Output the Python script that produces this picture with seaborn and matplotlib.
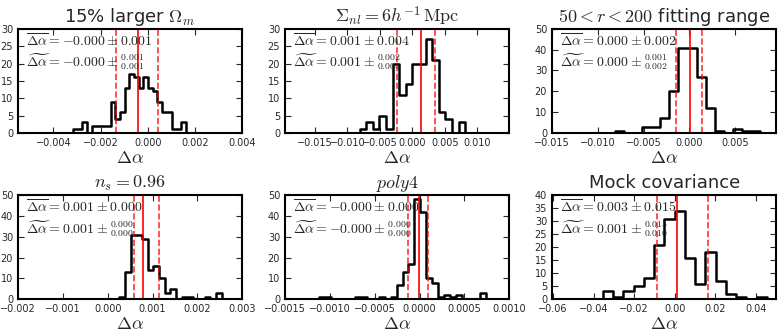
import numpy as np
import pandas as pd
import matplotlib
matplotlib.use('Agg')
import matplotlib.pyplot as plt
from matplotlib.ticker import MultipleLocator
import seaborn as sns

# DATA -----------------------------------------------------------------------------

titles = [r'15% larger $\Omega_m$', r'$\Sigma_{nl} = 6h^{-1}\,\mathrm{Mpc}$', r'$50 < r < 200$ fitting range',
          r'$n_s = 0.96$', r'$poly4$', 'Mock covariance']

# histogram counts per bin
counts_omega = [1, 1, 3, 0, 2, 2, 2, 2, 9, 4, 6, 13, 17, 16, 13, 16, 13, 12, 9, 6, 6, 1, 1, 3]
counts_sigma = [1, 3, 1, 5, 1, 20, 11, 14, 20, 20, 27, 21, 6, 4, 0, 3]
counts_range = [1, 0, 0, 3, 3, 7, 20, 41, 41, 27, 12, 1, 0, 2, 1, 1]
counts_ns = [1, 13, 31, 31, 29, 14, 16, 10, 3, 5, 0, 1, 1, 0, 0, 1, 0, 3]
counts_poly = [1, 1, 0, 0, 0, 0, 1, 1, 0, 0, 1, 0, 1, 7, 13, 17, 48, 42, 10, 8, 1, 2, 1, 2, 0, 0, 0, 3]
counts_mock = [3, 1, 3, 5, 8, 21, 31, 34, 16, 6, 18, 7, 2, 1, 0, 1]

# first and last bin edge
hist_ranges = [(-0.00317, 0.00160), (-0.0081, 0.0081), (-0.0081, 0.0077),
               (0.000255, 0.00254), (-0.00112, 0.00074), (-0.0354, 0.0453)]

# median and 16/84 percentiles (red lines)
medians = [-0.0004, 0.00128, 0.0001, 0.00078, -0.00001, 0.0013]
lower = [-0.00133, -0.0024, -0.00146, 0.00059, -0.00013, -0.0088]
upper = [0.00042, 0.0034, 0.00143, 0.00114, 0.00009, 0.0166]

mean_txt = ['-0.000', '0.001', '0.000', '0.001', '-0.000', '0.003']
std_txt = ['0.001', '0.004', '0.002', '0.000', '0.000', '0.015']
med_txt = ['-0.000', '0.001', '0.000', '0.001', '-0.000', '0.001']
up_txt = ['0.001', '0.002', '0.001', '0.000', '0.000', '0.015']
lo_txt = ['0.001', '0.004', '0.002', '0.000', '0.000', '0.010']

xlims = [(-0.0055, 0.004), (-0.0196, 0.0149), (-0.015, 0.0095),
         (-0.002, 0.003), (-0.0015, 0.001), (-0.0605, 0.05)]
xsteps = [0.002, 0.005, 0.005, 0.001, 0.0005, 0.02]
ymax = [30, 30, 50, 50, 50, 40]
ysteps = [5, 5, 10, 10, 10, 5]

all_counts = [counts_omega, counts_sigma, counts_range, counts_ns, counts_poly, counts_mock]

# STYLE ------------------------------------------------------------------------------

sns.set_style('ticks')
plt.rcParams['font.family'] = ['DejaVu Sans']
plt.rcParams['mathtext.fontset'] = 'cm'
plt.rcParams['xtick.direction'] = 'in'
plt.rcParams['ytick.direction'] = 'in'
plt.rcParams['xtick.top'] = True
plt.rcParams['ytick.right'] = True
plt.rcParams['axes.linewidth'] = 1.5
plt.rcParams['axes.edgecolor'] = 'black'

fig, axes = plt.subplots(2, 3, figsize=(7.81, 3.32), dpi=100)
fig.subplots_adjust(left=0.023, right=0.994, bottom=0.099, top=0.913, wspace=0.19, hspace=0.6)

for i, ax in enumerate(axes.flat):
    counts = all_counts[i]
    start, end = hist_ranges[i]
    n = len(counts)
    edges = np.linspace(start, end, n + 1)
    w = edges[1] - edges[0]
    # pad with an empty bin on each side so the step closes down to zero
    edges = np.concatenate([[edges[0] - w], edges, [edges[-1] + w]])
    heights = np.concatenate([[0], counts, [0]])
    df = pd.DataFrame({'centre': (edges[:-1] + edges[1:]) / 2, 'count': heights})

    sns.histplot(data=df, x='centre', weights='count', bins=list(edges), element='step',
                 fill=False, color='black', linewidth=1.8, ax=ax)

    ax.axvline(medians[i], color='red', lw=1.2)
    ax.axvline(lower[i], color='red', lw=1.2, ls='--', alpha=0.8)
    ax.axvline(upper[i], color='red', lw=1.2, ls='--', alpha=0.8)

    ax.set_xlim(*xlims[i])
    ax.set_ylim(0, ymax[i])
    ax.xaxis.set_major_locator(MultipleLocator(xsteps[i]))
    ax.yaxis.set_major_locator(MultipleLocator(ysteps[i]))
    ax.tick_params(labelsize=7, length=4, width=0.8)
    ax.set_ylabel('')
    ax.set_xlabel(r'$\Delta\alpha$', fontsize=13, labelpad=1)
    ax.set_title(titles[i], fontsize=13, pad=5)

    ax.text(0.035, 0.97, r'$\overline{\Delta\alpha} = %s \pm %s$' % (mean_txt[i], std_txt[i]),
            transform=ax.transAxes, fontsize=10, va='top', ha='left')
    ax.text(0.035, 0.78, r'$\widetilde{\Delta\alpha} = %s \pm^{%s}_{%s}$' % (med_txt[i], up_txt[i], lo_txt[i]),
            transform=ax.transAxes, fontsize=10, va='top', ha='left')

plt.savefig('out.png', dpi=100)
